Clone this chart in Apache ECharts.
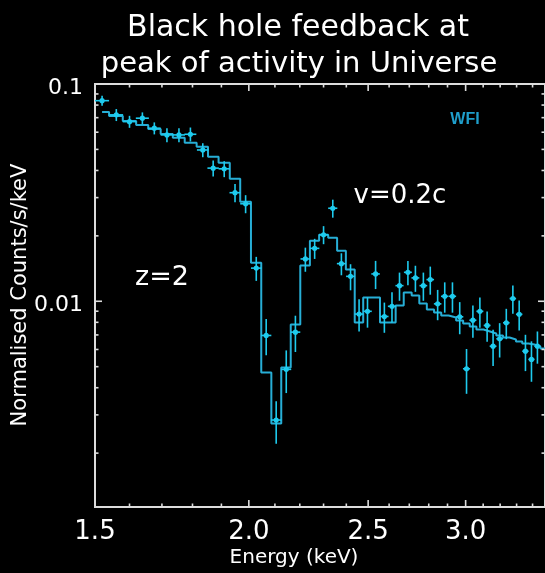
<!DOCTYPE html>
<html><head><meta charset="utf-8">
<script src="https://cdn.jsdelivr.net/npm/echarts@6/dist/echarts.min.js"></script>
<style>html,body{margin:0;padding:0;background:#000;}#c{width:545px;height:573px;}</style>
</head><body><div id="c"></div>
<script>
// ---- data (energy in keV, normalised counts/s/keV) ----
const energy = [1.520,1.561,1.600,1.639,1.676,1.716,1.755,1.793,1.835,1.871,1.910,1.949,1.988,2.028,2.066,2.105,2.145,2.182,2.223,2.262,2.300,2.340,2.378,2.419,2.458,2.497,2.535,2.577,2.614,2.651,2.693,2.731,2.772,2.808,2.847,2.885,2.927,2.967,3.005,3.041,3.081,3.123,3.158,3.197,3.237,3.277,3.316,3.355,3.393,3.431];
const counts = [0.0838,0.0721,0.0671,0.0696,0.0626,0.0583,0.0583,0.0587,0.0497,0.0410,0.0407,0.0316,0.0281,0.01421,0.00696,0.00284,0.00486,0.00721,0.01566,0.01752,0.02024,0.02680,0.01490,0.01302,0.00873,0.00899,0.01336,0.00851,0.00948,0.01180,0.01359,0.01281,0.01180,0.01258,0.00973,0.01054,0.01054,0.00848,0.00489,0.00818,0.00899,0.00774,0.00621,0.00672,0.00796,0.01029,0.00871,0.00589,0.00540,0.00621];
const countsErr = [0.00443,0.00458,0.00426,0.00442,0.00398,0.00432,0.00432,0.00435,0.00368,0.00347,0.00344,0.00301,0.00268,0.00180,0.00132,0.00063,0.00108,0.00137,0.00199,0.00186,0.00193,0.00255,0.00173,0.00179,0.00148,0.00143,0.00198,0.00135,0.00151,0.00175,0.00173,0.00176,0.00175,0.00186,0.00155,0.00168,0.00168,0.00143,0.00114,0.00138,0.00143,0.00123,0.00118,0.00121,0.00127,0.00152,0.00138,0.00112,0.00114,0.00105];
const energyHalfWidth = 0.02;
const modelEdges = [1.52,1.54,1.58,1.62,1.657,1.696,1.735,1.774,1.814,1.853,1.89,1.93,1.968,2.008,2.047,2.086,2.125,2.163,2.202,2.242,2.281,2.32,2.359,2.398,2.438,2.477,2.516,2.556,2.595,2.632,2.672,2.712,2.751,2.79,2.828,2.866,2.906,2.947,2.986,3.023,3.061,3.102,3.14,3.177,3.217,3.257,3.296,3.335,3.374,3.412,3.45,3.49];
const modelValues = [0.0744,0.0713,0.0676,0.0648,0.0621,0.0589,0.0565,0.0536,0.0514,0.0462,0.0434,0.0366,0.0287,0.01506,0.00470,0.00274,0.00496,0.00782,0.01459,0.01900,0.02024,0.01961,0.01710,0.01400,0.00798,0.01040,0.01040,0.00798,0.00798,0.00955,0.01096,0.01062,0.00976,0.00916,0.00887,0.00860,0.00842,0.00815,0.00790,0.00765,0.00741,0.00726,0.00711,0.00696,0.00681,0.00667,0.00653,0.00639,0.00632,0.00619,0.00606];
const xTickLabels = [1.5, 2.0, 2.5, 3.0];
const xMinorTicks = [1.6,1.7,1.8,1.9,2.1,2.2,2.3,2.4,2.6,2.7,2.8,2.9,3.1,3.2,3.3,3.4];
const yTickLabels = [0.1, 0.01];
const yMinorTicks = [0.09,0.08,0.07,0.06,0.05,0.04,0.03,0.02,0.009,0.008,0.007,0.006,0.005,0.004,0.003,0.002];
const X_MIN = 1.5, X_MAX = 3.48, Y_MIN = 0.00113, Y_MAX = 0.1;

const FONT = '"DejaVu Sans", sans-serif';
const AXIS_COLOR = '#dcdcdc';
const MODEL_COLOR = '#27aed6';
const DATA_COLOR = '#1ecbee';

const chart = echarts.init(document.getElementById('c'), null, {renderer: 'canvas'});

// model as step line through bin edges
const modelData = modelEdges.map((e, i) => [e, modelValues[Math.min(i, modelValues.length - 1)]]);
const pointData = energy.map((e, i) => [e, counts[i], countsErr[i]]);
const xTickData = xTickLabels.map(v => [v, Y_MIN, 1]).concat(xMinorTicks.map(v => [v, Y_MIN, 0]));
const yTickData = yTickLabels.map(v => [X_MIN, v, 1]).concat(yMinorTicks.map(v => [X_MIN, v, 0]));

const tickStyle = {stroke: AXIS_COLOR, lineWidth: 1.6};

chart.setOption({
  animation: false,
  backgroundColor: '#000',
  grid: {left: 95, top: 84, width: 453, height: 423, show: true, borderColor: AXIS_COLOR, borderWidth: 2, backgroundColor: 'transparent'},
  xAxis: {
    type: 'log', min: X_MIN, max: X_MAX,
    axisLine: {show: false}, axisTick: {show: false}, splitLine: {show: false}, minorTick: {show: false},
    axisLabel: {customValues: xTickLabels, formatter: v => Number(v).toFixed(1), color: '#fff', fontSize: 26, fontFamily: FONT, margin: 12}
  },
  yAxis: {
    type: 'log', min: Y_MIN, max: Y_MAX,
    axisLine: {show: false}, axisTick: {show: false}, splitLine: {show: false}, minorTick: {show: false},
    axisLabel: {customValues: yTickLabels, formatter: v => String(Number(v)), color: '#fff', fontSize: 22, fontFamily: FONT, margin: 12, verticalAlign: 'top', lineHeight: 8}
  },
  graphic: [
    {type: 'text', x: 298, y: 28, style: {text: 'Black hole feedback at', fill: '#fff', fontSize: 30, fontFamily: FONT, align: 'center', verticalAlign: 'middle'}},
    {type: 'text', x: 299, y: 64, style: {text: 'peak of activity in Universe', fill: '#fff', fontSize: 29, fontFamily: FONT, align: 'center', verticalAlign: 'middle'}},
    {type: 'text', x: 21, y: 295, rotation: Math.PI / 2, style: {text: 'Normalised Counts/s/keV', fill: '#fff', fontSize: 21, fontFamily: FONT, align: 'center', verticalAlign: 'middle'}},
    {type: 'text', x: 294, y: 558, style: {text: 'Energy (keV)', fill: '#fff', fontSize: 20, fontFamily: FONT, align: 'center', verticalAlign: 'middle'}},
    {type: 'text', x: 162, y: 278, style: {text: 'z=2', fill: '#fff', fontSize: 27, fontFamily: FONT, align: 'center', verticalAlign: 'middle'}},
    {type: 'text', x: 400, y: 196, style: {text: 'v=0.2c', fill: '#fff', fontSize: 26, fontFamily: FONT, align: 'center', verticalAlign: 'middle'}},
    {type: 'text', x: 465, y: 120, style: {text: 'WFI', fill: '#1f9fcc', fontSize: 16, fontWeight: 'bold', fontFamily: '"Liberation Sans", Arial, sans-serif', align: 'center', verticalAlign: 'middle'}}
  ],
  series: [
    {
      name: 'model', type: 'line', step: 'end', data: modelData, showSymbol: false, symbol: 'none',
      lineStyle: {color: MODEL_COLOR, width: 2}, z: 2
    },
    {
      name: 'data', type: 'custom', data: pointData, z: 3,
      renderItem: (params, api) => {
        const x = api.value(0), y = api.value(1), s = api.value(2);
        const c = api.coord([x, y]);
        const t = api.coord([x, y + s]);
        const b = api.coord([x, y - s]);
        const l = api.coord([x - energyHalfWidth, y]);
        const r = api.coord([x + energyHalfWidth, y]);
        const st = {stroke: DATA_COLOR, lineWidth: 1.6};
        return {type: 'group', children: [
          {type: 'line', shape: {x1: c[0], y1: t[1], x2: c[0], y2: b[1]}, style: st},
          {type: 'line', shape: {x1: l[0], y1: c[1], x2: r[0], y2: c[1]}, style: st},
          {type: 'circle', shape: {cx: c[0], cy: c[1], r: 2.6}, style: {fill: DATA_COLOR}}
        ]};
      }
    },
    {
      name: 'xticks', type: 'custom', data: xTickData, clip: false, silent: true, z: 4,
      renderItem: (params, api) => {
        const v = api.value(0), major = api.value(2) === 1;
        const len = major ? 7 : 3.5;
        const pb = api.coord([v, Y_MIN]);
        const pt = api.coord([v, Y_MAX]);
        return {type: 'group', children: [
          {type: 'line', shape: {x1: pb[0], y1: pb[1], x2: pb[0], y2: pb[1] - len}, style: tickStyle},
          {type: 'line', shape: {x1: pt[0], y1: pt[1], x2: pt[0], y2: pt[1] + len}, style: tickStyle}
        ]};
      }
    },
    {
      name: 'yticks', type: 'custom', data: yTickData, clip: false, silent: true, z: 4,
      renderItem: (params, api) => {
        const v = api.value(1), major = api.value(2) === 1;
        const len = major ? 7 : 3.5;
        const pl = api.coord([X_MIN, v]);
        const pr = api.coord([X_MAX, v]);
        return {type: 'group', children: [
          {type: 'line', shape: {x1: pl[0], y1: pl[1], x2: pl[0] + len, y2: pl[1]}, style: tickStyle},
          {type: 'line', shape: {x1: pr[0], y1: pr[1], x2: pr[0] - len, y2: pr[1]}, style: tickStyle}
        ]};
      }
    }
  ]
});
</script>
</body></html>
